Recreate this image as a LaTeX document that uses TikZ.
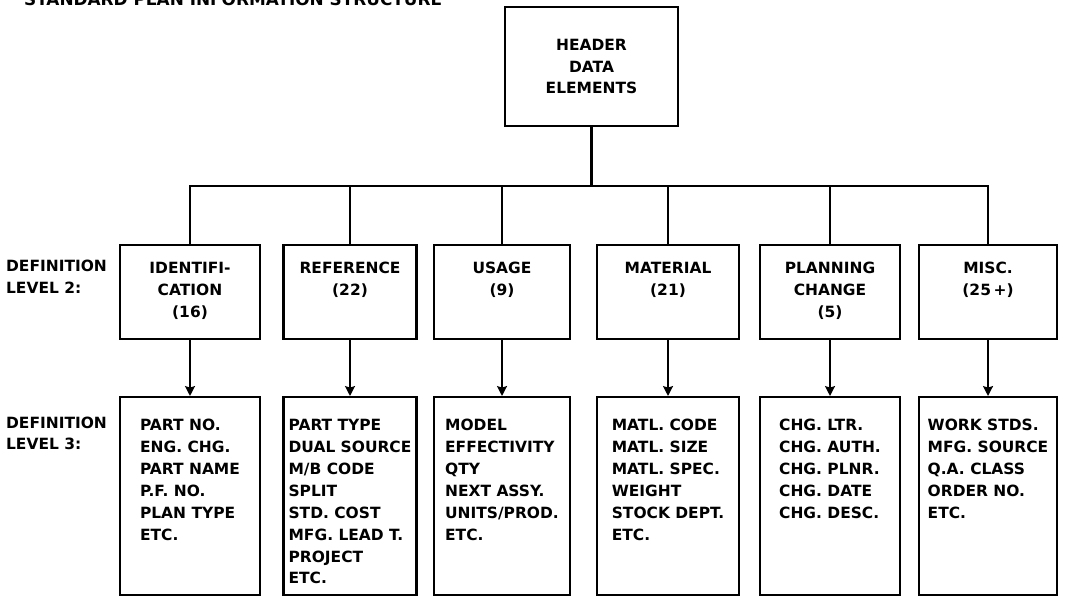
\documentclass[tikz,border=0pt]{standalone}
\usepackage{fontspec}
\setmainfont{DejaVu Sans}
\usetikzlibrary{positioning,arrows.meta}
\tikzset{font=\bfseries\fontsize{11}{15.6}\selectfont}

\begin{document}
\begin{tikzpicture}[x=0.025cm, y=-0.025cm, line width=1.6pt]
	\tikzstyle{every node}=[inner sep=1pt]
	\tikzstyle{topbox}=[draw, align=center, minimum width=4.325cm, minimum height=2.975cm]
	\tikzstyle{lvtwo}=[draw, anchor=north, inner xsep=0pt, inner ysep=0.425cm, text height=8pt, text depth=34.7pt]
	\tikzstyle{lvthree}=[draw, anchor=north, inner xsep=3pt, inner ysep=0.55cm, text height=8pt, text depth=101.5pt]
	\tikzstyle{sidelabel}=[anchor=base west, inner sep=0pt]
	\useasboundingbox (0,0) rectangle (1069,596);

	\node[anchor=base west, inner sep=0pt, font=\bfseries\fontsize{12}{14}\selectfont] (title) at (23,5.5) {STANDARD PLAN INFORMATION STRUCTURE};

	\node[topbox] (head) at (591.5,66.5) {HEADER\\DATA\\ELEMENTS};
	\coordinate (bar) at (591.5,186);

	% definition level 2
	\node[sidelabel] (deftwo) at (5,271.5) {\begin{tabular}[t]{@{}l@{}}DEFINITION\\LEVEL 2:\end{tabular}};
	\node[lvtwo, minimum width=3.5cm] (ident) at (190,244) {\begin{tabular}[t]{@{}c@{}}IDENTIFI-\\CATION\\(16)\end{tabular}};
	\node[lvtwo, minimum width=3.325cm] (ref) at (350,244) {\begin{tabular}[t]{@{}c@{}}REFERENCE\\(22)\end{tabular}};
	\node[lvtwo, minimum width=3.4cm] (usage) at (502,244) {\begin{tabular}[t]{@{}c@{}}USAGE\\(9)\end{tabular}};
	\node[lvtwo, minimum width=3.55cm] (matl) at (668,244) {\begin{tabular}[t]{@{}c@{}}MATERIAL\\(21)\end{tabular}};
	\node[lvtwo, minimum width=3.5cm] (plan) at (830,244) {\begin{tabular}[t]{@{}c@{}}PLANNING\\CHANGE\\(5)\end{tabular}};
	\node[lvtwo, minimum width=3.45cm] (misc) at (988,244) {\begin{tabular}[t]{@{}c@{}}MISC.\\(25\,+)\end{tabular}};

	% definition level 3
	\node[sidelabel] (defthree) at (5,428) {\begin{tabular}[t]{@{}l@{}}DEFINITION\\LEVEL 3:\end{tabular}};
	\node[lvthree, minimum width=3.5cm] (ident3) at (190,396) {\begin{tabular}[t]{@{}l@{}}PART NO.\\ENG. CHG.\\PART NAME\\P.F. NO.\\PLAN TYPE\\ETC.\end{tabular}};
	\node[lvthree, minimum width=3.325cm] (ref3) at (350,396) {\begin{tabular}[t]{@{}l@{}}PART TYPE\\DUAL SOURCE\\M/B CODE\\SPLIT\\STD. COST\\MFG. LEAD T.\\PROJECT\\ETC.\end{tabular}};
	\node[lvthree, minimum width=3.4cm] (usage3) at (502,396) {\begin{tabular}[t]{@{}l@{}}MODEL\\EFFECTIVITY\\QTY\\NEXT ASSY.\\UNITS/PROD.\\ETC.\end{tabular}};
	\node[lvthree, minimum width=3.55cm] (matl3) at (668,396) {\begin{tabular}[t]{@{}l@{}}MATL. CODE\\MATL. SIZE\\MATL. SPEC.\\WEIGHT\\STOCK DEPT.\\ETC.\end{tabular}};
	\node[lvthree, minimum width=3.5cm] (plan3) at (830,396) {\begin{tabular}[t]{@{}l@{}}CHG. LTR.\\CHG. AUTH.\\CHG. PLNR.\\CHG. DATE\\CHG. DESC.\end{tabular}};
	\node[lvthree, minimum width=3.45cm] (misc3) at (988,396) {\begin{tabular}[t]{@{}l@{}}WORK STDS.\\MFG. SOURCE\\Q.A. CLASS\\ORDER NO.\\ETC.\end{tabular}};

	\draw (head.south) -- (bar);
	\draw (ident.north) -- (ident.north |- bar) -- (misc.north |- bar) -- (misc.north);
	\draw (ref.north) -- (ref.north |- bar);
	\draw (usage.north) -- (usage.north |- bar);
	\draw (matl.north) -- (matl.north |- bar);
	\draw (plan.north) -- (plan.north |- bar);

	\draw [-{Stealth[length=7pt,width=7pt,inset=1pt]}] (ident) -- (ident3);
	\draw [-{Stealth[length=7pt,width=7pt,inset=1pt]}] (ref) -- (ref3);
	\draw [-{Stealth[length=7pt,width=7pt,inset=1pt]}] (usage) -- (usage3);
	\draw [-{Stealth[length=7pt,width=7pt,inset=1pt]}] (matl) -- (matl3);
	\draw [-{Stealth[length=7pt,width=7pt,inset=1pt]}] (plan) -- (plan3);
	\draw [-{Stealth[length=7pt,width=7pt,inset=1pt]}] (misc) -- (misc3);
\end{tikzpicture}
\end{document}
